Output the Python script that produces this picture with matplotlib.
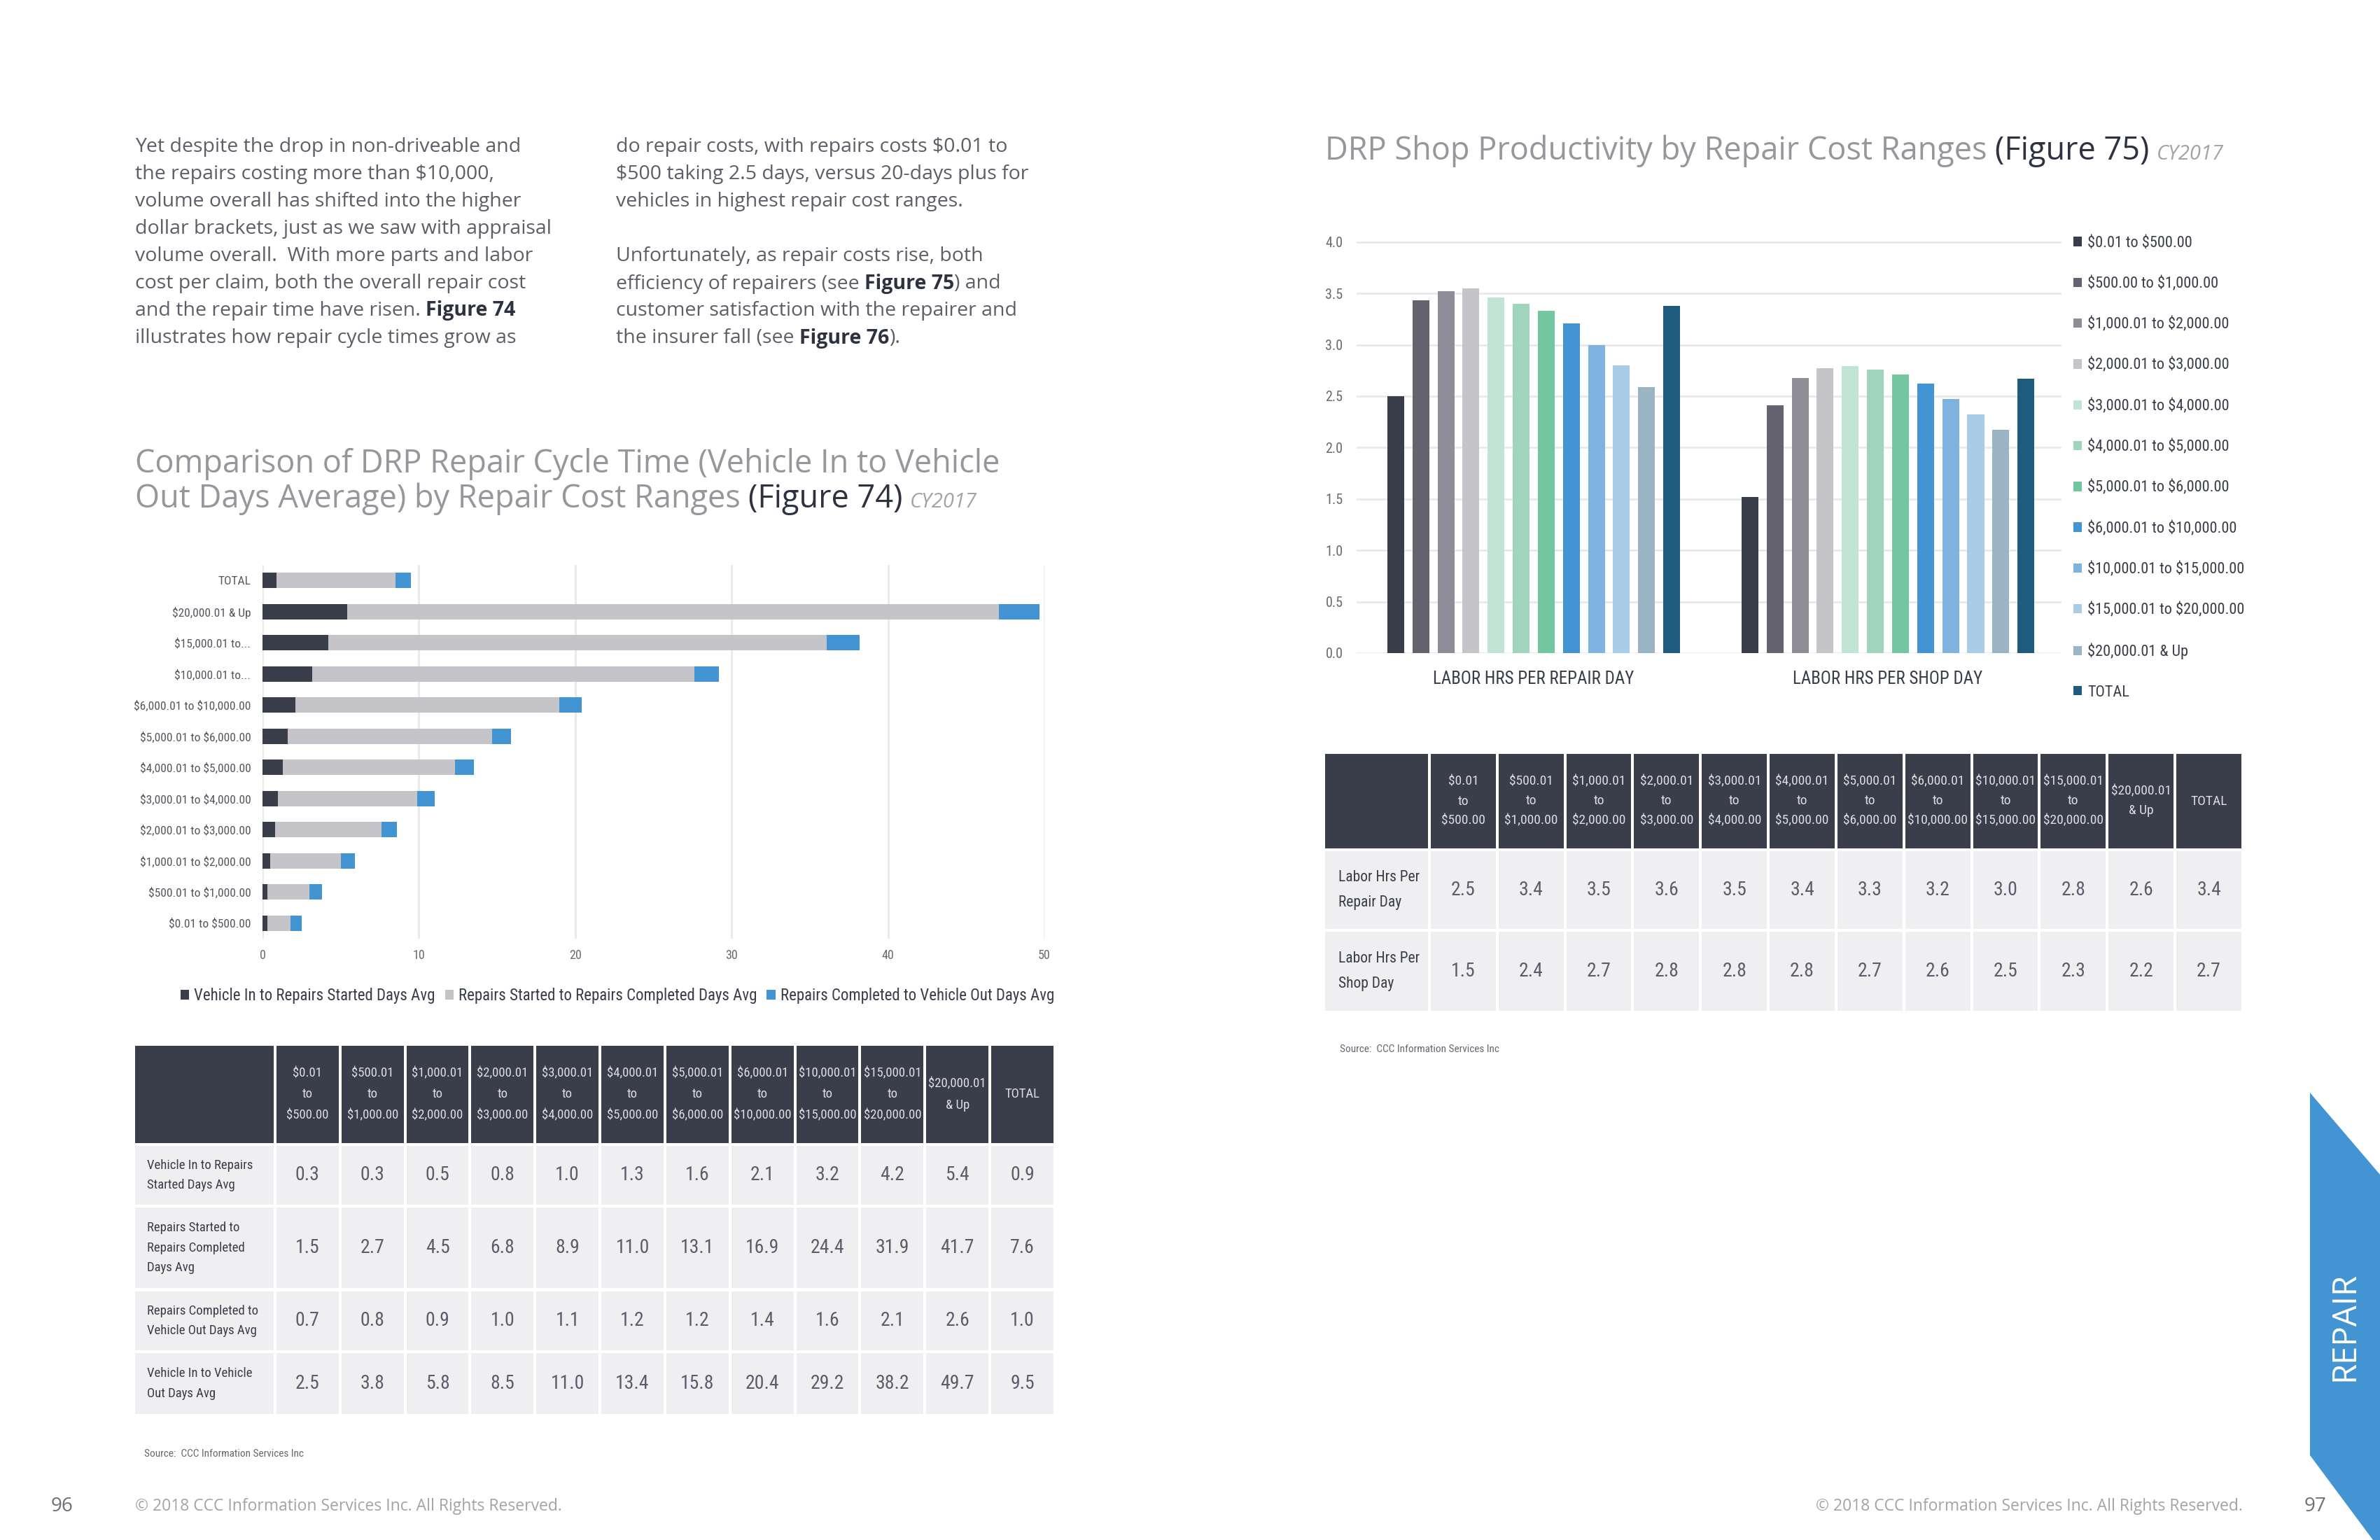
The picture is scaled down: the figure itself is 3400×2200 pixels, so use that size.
#!/usr/bin/env python
"""
plot.py
=======
Report spread : DRP repair cycle time (Figure 74) and shop productivity (Figure 75)
"""
import numpy as np
import matplotlib
matplotlib.use("Agg")
import matplotlib.pyplot as plt
from matplotlib import font_manager as fm
from matplotlib.patches import Rectangle, Polygon
from matplotlib.offsetbox import TextArea, HPacker, DrawingArea, AnnotationBbox

W, H = 3400, 2200
plt.rcParams["text.parse_math"] = False

# ---- Figure 74 : cycle time by repair cost range (bottom to top as drawn)
cycle_cats = ["$0.01 to $500.00", "$500.01 to $1,000.00", "$1,000.01 to $2,000.00",
              "$2,000.01 to $3,000.00", "$3,000.01 to $4,000.00", "$4,000.01 to $5,000.00",
              "$5,000.01 to $6,000.00", "$6,000.01 to $10,000.00", "$10,000.01 to...",
              "$15,000.01 to...", "$20,000.01 & Up", "TOTAL"]
in_to_started = [0.3, 0.3, 0.5, 0.8, 1.0, 1.3, 1.6, 2.1, 3.2, 4.2, 5.4, 0.9]
started_to_completed = [1.5, 2.7, 4.5, 6.8, 8.9, 11.0, 13.1, 16.9, 24.4, 31.9, 41.7, 7.6]
completed_to_out = [0.7, 0.8, 0.9, 1.0, 1.1, 1.2, 1.2, 1.4, 1.6, 2.1, 2.6, 1.0]
in_to_out = [2.5, 3.8, 5.8, 8.5, 11.0, 13.4, 15.8, 20.4, 29.2, 38.2, 49.7, 9.5]
cycle_series = ["Vehicle In to Repairs Started Days Avg",
                "Repairs Started to Repairs Completed Days Avg",
                "Repairs Completed to Vehicle Out Days Avg"]
cycle_rows = ["Vehicle In to Repairs\nStarted Days Avg",
              "Repairs Started to\nRepairs Completed\nDays Avg",
              "Repairs Completed to\nVehicle Out Days Avg",
              "Vehicle In to Vehicle\nOut Days Avg"]

range_heads = ["$0.01\nto\n$500.00", "$500.01\nto\n$1,000.00", "$1,000.01\nto\n$2,000.00",
               "$2,000.01\nto\n$3,000.00", "$3,000.01\nto\n$4,000.00", "$4,000.01\nto\n$5,000.00",
               "$5,000.01\nto\n$6,000.00", "$6,000.01\nto\n$10,000.00", "$10,000.01\nto\n$15,000.00",
               "$15,000.01\nto\n$20,000.00", "$20,000.01\n& Up", "TOTAL"]

# ---- Figure 75 : labor hours per day
prod_groups = ["LABOR HRS PER REPAIR DAY", "LABOR HRS PER SHOP DAY"]
prod_series = ["$0.01 to $500.00", "$500.00 to $1,000.00", "$1,000.01 to $2,000.00",
               "$2,000.01 to $3,000.00", "$3,000.01 to $4,000.00", "$4,000.01 to $5,000.00",
               "$5,000.01 to $6,000.00", "$6,000.01 to $10,000.00", "$10,000.01 to $15,000.00",
               "$15,000.01 to $20,000.00", "$20,000.01 & Up", "TOTAL"]
hrs_repair_day = [2.50, 3.43, 3.52, 3.55, 3.46, 3.40, 3.33, 3.21, 3.00, 2.80, 2.59, 3.38]
hrs_shop_day = [1.52, 2.41, 2.68, 2.77, 2.79, 2.76, 2.71, 2.62, 2.47, 2.32, 2.17, 2.67]
repair_day_tbl = [2.5, 3.4, 3.5, 3.6, 3.5, 3.4, 3.3, 3.2, 3.0, 2.8, 2.6, 3.4]
shop_day_tbl = [1.5, 2.4, 2.7, 2.8, 2.8, 2.8, 2.7, 2.6, 2.5, 2.3, 2.2, 2.7]
prod_rows = ["Labor Hrs Per\nRepair Day", "Labor Hrs Per\nShop Day"]

body_left = ["Yet despite the drop in non-driveable and",
             "the repairs costing more than $10,000,",
             "volume overall has shifted into the higher",
             "dollar brackets, just as we saw with appraisal",
             "volume overall.  With more parts and labor",
             "cost per claim, both the overall repair cost",
             "and the repair time have risen.  **Figure 74**",
             "illustrates how repair cycle times grow as"]
body_right = ["do repair costs, with repairs costs $0.01 to",
              "$500 taking 2.5 days, versus 20-days plus for",
              "vehicles in highest repair cost ranges.",
              "",
              "Unfortunately, as repair costs rise, both",
              "efficiency of repairers (see **Figure 75**) and",
              "customer satisfaction with the repairer and",
              "the insurer fall (see **Figure 76**)."]

DARK = "#3a3d4a"
LGRAY = "#c5c4c9"
BLUE = "#4394d3"
GRIDC = "#e9e9ec"
CELL = "#efeff1"
prod_colors = ["#3a3d4a", "#64636f", "#8f8e98", "#c5c4c9", "#c2e4d5", "#9fd6bb",
               "#72c6a0", "#4394d3", "#7db3de", "#a9cde9", "#9ab4c3", "#1e5b7e"]


def has_font(name):
    return any(f.name == name for f in fm.fontManager.ttflist)


if has_font("Roboto Condensed"):
    NARROW = dict(family="Roboto Condensed")
elif has_font("Liberation Sans Narrow"):
    NARROW = dict(family="Liberation Sans Narrow")
else:
    NARROW = dict(family="DejaVu Sans", stretch="condensed")
BODY = next((n for n in ["Open Sans", "Lato", "Noto Sans"] if has_font(n)), "DejaVu Sans")


def nfp(size, **kw):
    return fm.FontProperties(size=size, **NARROW, **kw)


def fbox(x0, y0, x1, y1):
    return [x0 / W, 1 - y1 / H, (x1 - x0) / W, (y1 - y0) / H]


def rich(ax, x, y, parts, space=5, ha="left"):
    """ parts : list of (text, textprops); leading/trailing blanks become gaps """
    kids = []
    for txt, props in parts:
        if txt.startswith(" "):
            kids.append(DrawingArea(space, 1))
        kids.append(TextArea(txt.strip(), textprops=props))
        if txt.endswith(" "):
            kids.append(DrawingArea(space, 1))
    box = HPacker(children=kids, align="baseline", pad=0, sep=0)
    ab = AnnotationBbox(box, (x, y), xycoords="data", frameon=False, pad=0,
                        box_alignment=(0 if ha == "left" else 1, 0.5))
    ax.add_artist(ab)


def body_line(ax, x, y, line, size=20.5):
    parts = []
    for k, seg in enumerate(line.split("**")):
        if not seg:
            continue
        if k % 2:
            parts.append((seg, dict(family=BODY, size=size, color="#2e3140", weight="bold")))
        else:
            parts.append((seg, dict(family=BODY, size=size, color="#5c5e68")))
    if parts:
        rich(ax, x, y, parts, space=size * 0.26)


def draw_table(ax, x0, x1, label_w, ys, heads, row_labels, rows, head_fs, val_fs, lab_fs,
               head_ls=1.9, lab_ls=1.9, lab_pad=17, gap=4):
    ncol = len(heads)
    cw = (x1 - x0 - label_w) / ncol
    top, bot = ys[0]
    ax.add_patch(Rectangle((x0, top), label_w - gap / 2, bot - top, color=DARK, lw=0))
    for j, h in enumerate(heads):
        cx = x0 + label_w + j * cw
        ax.add_patch(Rectangle((cx + gap / 2, top), cw - gap, bot - top, color=DARK, lw=0))
        ax.text(cx + cw / 2, (top + bot) / 2, h, ha="center", va="center", color="#dcdde2",
                fontsize=head_fs, linespacing=head_ls, **NARROW)
    for (top, bot), lab, vals in zip(ys[1:], row_labels, rows):
        ax.add_patch(Rectangle((x0, top), label_w - gap / 2, bot - top, color=CELL, lw=0))
        ax.text(x0 + lab_pad, (top + bot) / 2, lab, ha="left", va="center", color=DARK,
                fontsize=lab_fs, linespacing=lab_ls, **NARROW)
        for j, v in enumerate(vals):
            cx = x0 + label_w + j * cw
            ax.add_patch(Rectangle((cx + gap / 2, top), cw - gap, bot - top, color=CELL, lw=0))
            ax.text(cx + cw / 2, (top + bot) / 2, f"{v:.1f}", ha="center", va="center",
                    color="#5b5e6a", fontsize=val_fs, **NARROW)


fig = plt.figure(figsize=(W / 100, H / 100), dpi=100)
fig.patch.set_facecolor("white")
bg = fig.add_axes([0, 0, 1, 1], zorder=0)
bg.set_xlim(0, W)
bg.set_ylim(H, 0)
bg.axis("off")

# ---- body copy
for i, (l, r) in enumerate(zip(body_left, body_right)):
    yy = 210 + i * 39.0
    body_line(bg, 193, yy, l)
    body_line(bg, 880, yy, r)

# ---- titles
TSZ = 32.5
tmain = dict(family=BODY, size=TSZ, color="#96969c")
tfig = dict(family=BODY, size=TSZ, color="#2e3140")
tcy = dict(family=BODY, size=21, color="#a3a3a8", style="italic")
rich(bg, 193, 663, [("Comparison of DRP Repair Cycle Time (Vehicle In to Vehicle", tmain)])
rich(bg, 193, 713, [("Out Days Average) by Repair Cost Ranges ", tmain), ("(Figure 74) ", tfig),
                    ("CY2017", tcy)], space=8)
rich(bg, 1893, 216, [("DRP Shop Productivity by Repair Cost Ranges ", tmain), ("(Figure 75) ", tfig),
                     ("CY2017", tcy)], space=8)

# ---- Figure 74 stacked bars
ax1 = fig.add_axes(fbox(375, 807, 1492, 1341), zorder=2)
ax1.patch.set_alpha(0)
ypos = np.arange(len(cycle_cats))
left = np.zeros(len(ypos))
for vals, col, lab in zip([in_to_started, started_to_completed, completed_to_out],
                          [DARK, LGRAY, BLUE], cycle_series):
    ax1.barh(ypos, vals, left=left, height=0.5, color=col, label=lab, zorder=3)
    left += np.array(vals)
ax1.set_xlim(0, 50)
ax1.set_ylim(-0.5, 11.5)
ax1.set_xticks(np.arange(0, 51, 10), [str(v) for v in range(0, 51, 10)],
               fontproperties=nfp(13), color="#6a6a70")
ax1.set_yticks(ypos, cycle_cats, fontproperties=nfp(12.5), color="#55575f")
ax1.tick_params(length=0)
ax1.tick_params(axis="x", pad=11)
ax1.tick_params(axis="y", pad=12)
ax1.grid(axis="x", color=GRIDC, lw=2)
ax1.set_axisbelow(True)
for s in ax1.spines.values():
    s.set_visible(False)
fig.legend(*ax1.get_legend_handles_labels(), loc="center", ncol=3, frameon=False,
           bbox_to_anchor=(882 / W, 1 - 1423 / H), prop=nfp(16.5), labelcolor=DARK,
           handlelength=0.55, handleheight=0.55, handletextpad=0.3, columnspacing=0.6)

draw_table(bg, 193, 1507, 200,
           [(1494, 1633), (1637, 1721), (1725, 1840), (1845, 1929), (1933, 2020)],
           range_heads, cycle_rows,
           [in_to_started, started_to_completed, completed_to_out, in_to_out],
           head_fs=13.5, val_fs=20, lab_fs=13.5, head_ls=1.85, lab_ls=1.75)
bg.text(206, 2077, "Source:  CCC Information Services Inc", ha="left", va="center",
        color="#666870", fontsize=11, **NARROW)

# ---- Figure 75 grouped bars
ax2 = fig.add_axes(fbox(1938, 345, 2945, 933), zorder=2)
ax2.patch.set_alpha(0)
xg = np.arange(len(prod_groups))
slot = 0.85 / len(prod_series)
for k, (lab, col) in enumerate(zip(prod_series, prod_colors)):
    ax2.bar(xg + (k - 5.5) * slot, [hrs_repair_day[k], hrs_shop_day[k]], width=0.67 * slot,
            color=col, label=lab, zorder=3)
ax2.set_xlim(-0.5, 1.49)
ax2.set_ylim(0, 4.005)
yt = np.arange(0, 4.01, 0.5)
ax2.set_yticks(yt, [f"{v:.1f}" for v in yt], fontproperties=nfp(14.5), color="#6a6a70")
ax2.set_xticks(xg, prod_groups, fontproperties=nfp(18), color=DARK)
ax2.tick_params(length=0)
ax2.tick_params(axis="y", pad=14)
ax2.tick_params(axis="x", pad=18)
ax2.grid(axis="y", color=GRIDC, lw=2)
ax2.set_axisbelow(True)
for s in ax2.spines.values():
    s.set_visible(False)
ax2.legend(loc="upper left", bbox_to_anchor=(2962 / W, 1 - 337 / H), bbox_transform=fig.transFigure,
           frameon=False, prop=nfp(16), labelcolor=DARK, handlelength=0.55, handleheight=0.55,
           handletextpad=0.35, labelspacing=1.63, borderpad=0, borderaxespad=0)

draw_table(bg, 1893, 3204, 149, [(1077, 1212), (1216, 1327), (1331, 1444)],
           range_heads, prod_rows, [repair_day_tbl, shop_day_tbl],
           head_fs=14, val_fs=20, lab_fs=15.5, head_ls=1.7, lab_ls=1.9, lab_pad=19)
bg.text(1914, 1499, "Source:  CCC Information Services Inc", ha="left", va="center",
        color="#666870", fontsize=11, **NARROW)

# ---- section tab and footer
bg.add_patch(Polygon([(3300, 1561), (3400, 1678), (3400, 2200), (3390, 2200), (3300, 2079)],
                     closed=True, color=BLUE, lw=0))
bg.text(3350, 1895, "REPAIR", rotation=90, ha="center", va="center", color="white",
        family=BODY, fontsize=34)
bg.text(89, 2152, "96", ha="center", va="center", color="#6f6f75", family=BODY, fontsize=20)
bg.text(3308, 2152, "97", ha="center", va="center", color="#6f6f75", family=BODY, fontsize=20)
bg.text(193, 2152, "\u00a9 2018 CCC Information Services Inc. All Rights Reserved.", ha="left",
        va="center", color="#a3a3a8", family=BODY, fontsize=16.5)
bg.text(3204, 2152, "\u00a9 2018 CCC Information Services Inc. All Rights Reserved.", ha="right",
        va="center", color="#a3a3a8", family=BODY, fontsize=16.5)

fig.savefig("out.png", dpi=100)
